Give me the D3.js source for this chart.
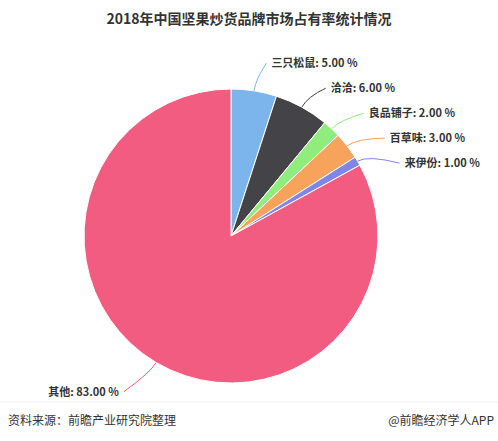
<!DOCTYPE html><html><head><meta charset="utf-8"><script src="https://cdn.jsdelivr.net/npm/d3@7"></script>
<style>body{margin:0;background:#fff}svg{font-family:"Noto Sans CJK SC","Noto Sans",sans-serif}</style></head><body>
<svg id="c" width="498" height="441"></svg>
<script>
const categories=["三只松鼠","洽洽","良品铺子","百草味","来伊份","其他"];
const values=[5,6,2,3,1,83];
const colors=["#7cb5ec","#434348","#90ed7d","#f7a35c","#8085e9","#f15c80"];
const svg=d3.select("#c");
svg.append("text").attr("x",249).attr("y",24).attr("text-anchor","middle").attr("font-size",14).attr("font-weight","bold").attr("fill","#333").text("2018年中国坚果炒货品牌市场占有率统计情况");
const cx=231,cy=236,r=147;
const g=svg.append("g").attr("transform",`translate(${cx},${cy})`);
const pie=d3.pie().sort(null).value(d=>d)(values);
const arc=d3.arc().innerRadius(0).outerRadius(r);
g.selectAll("path.s").data(pie).join("path").attr("d",arc).attr("fill",(d,i)=>colors[i]).attr("stroke","#fff").attr("stroke-width",1);
let lastY=-1e9;
pie.forEach((d,i)=>{
  const a=(d.startAngle+d.endAngle)/2;
  const sx=r*Math.sin(a), sy=-r*Math.cos(a);
  let lx=(r+28)*Math.sin(a), ly=-(r+28)*Math.cos(a);
  const right=Math.sin(a)>=0;
  if(right){ if(ly<lastY+25) ly=lastY+25; lastY=ly; lx+=8+i*2.5; } else { lx-=18; ly+=5; }
  g.append("path").attr("d",`M${sx},${sy} Q${(r+12)*Math.sin(a)},${-(r+12)*Math.cos(a)} ${lx},${ly}`).attr("fill","none").attr("stroke",colors[i]).attr("stroke-width",1);
  g.append("text").attr("x",lx+(right?5:-5)).attr("y",ly+4).attr("text-anchor",right?"start":"end").attr("font-size",11).attr("font-weight","bold").attr("fill","#333").text(`${categories[i]}: ${values[i].toFixed(2)} %`);
});
svg.append("line").attr("x1",0).attr("x2",498).attr("y1",402).attr("y2",402).attr("stroke","#eee");
svg.append("text").attr("x",8).attr("y",425).attr("font-size",12).attr("fill","#333").text("资料来源：前瞻产业研究院整理");
svg.append("text").attr("x",494).attr("y",425).attr("text-anchor","end").attr("font-size",12).attr("fill","#333").text("@前瞻经济学人APP");
</script></body></html>
